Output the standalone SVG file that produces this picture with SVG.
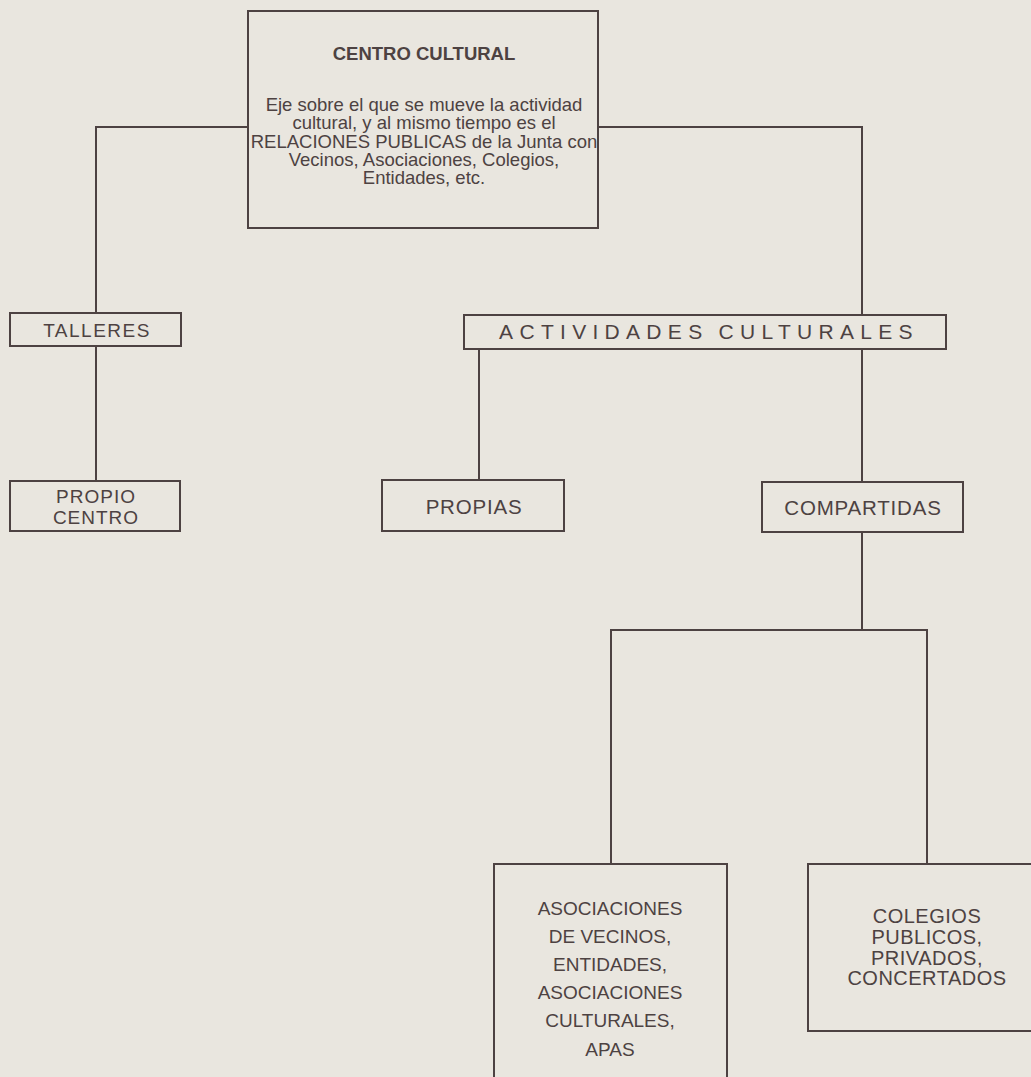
<svg xmlns="http://www.w3.org/2000/svg" width="1031" height="1077" viewBox="0 0 1031 1077">
<style>
.box{fill:none;stroke:#4d4242;stroke-width:2}
.ln{fill:none;stroke:#4d4242;stroke-width:2}
text{font-family:"Liberation Sans",Arial,Helvetica,sans-serif;fill:#4d4242;text-anchor:middle;font-size:18.5px}
.t{font-weight:bold}
.sp{font-size:21px;letter-spacing:6.3px;word-spacing:-2px}
.l1{font-size:19px;letter-spacing:1.5px}
.l2{font-size:19px;letter-spacing:1px}
.l3{font-size:20.5px;letter-spacing:0.8px}
.l4{font-size:19px}
.l5{font-size:20px;letter-spacing:0.5px}
</style>
<rect x="0" y="0" width="1031" height="1077" fill="#e9e6df"/>
<g id="connectors">
<path class="ln" d="M248 127 H96 V313"/>
<path class="ln" d="M96 346 V481"/>
<path class="ln" d="M598 127 H862 V315"/>
<path class="ln" d="M479 349 V480"/>
<path class="ln" d="M862 349 V482"/>
<path class="ln" d="M862 532 V630"/>
<path class="ln" d="M611 864 V630 H927 V864"/>
</g>
<g id="centro-cultural">
<rect class="box" x="248" y="11" width="350" height="217"/>
<text class="t" x="424" y="60">CENTRO CULTURAL</text>
<text x="424" y="111">Eje sobre el que se mueve la actividad</text>
<text x="424" y="129">cultural, y al mismo tiempo es el</text>
<text x="424" y="148">RELACIONES PUBLICAS de la Junta con</text>
<text x="424" y="166">Vecinos, Asociaciones, Colegios,</text>
<text x="424" y="184">Entidades, etc.</text>
</g>
<g id="talleres">
<rect class="box" x="10" y="313" width="171" height="33"/>
<text class="l1" x="97" y="337">TALLERES</text>
</g>
<g id="propio-centro">
<rect class="box" x="10" y="481" width="170" height="50"/>
<text class="l2" x="96" y="503">PROPIO</text>
<text class="l2" x="96" y="524">CENTRO</text>
</g>
<g id="actividades-culturales">
<rect class="box" x="464" y="315" width="482" height="34"/>
<text class="sp" x="709" y="339">ACTIVIDADES CULTURALES</text>
</g>
<g id="propias">
<rect class="box" x="382" y="480" width="182" height="51"/>
<text class="l3" x="474" y="514">PROPIAS</text>
</g>
<g id="compartidas">
<rect class="box" x="762" y="482" width="201" height="50"/>
<text class="l3" x="863" y="515">COMPARTIDAS</text>
</g>
<g id="asociaciones">
<rect class="box" x="494" y="864" width="233" height="230"/>
<text class="l4" x="610" y="915">ASOCIACIONES</text>
<text class="l4" x="610" y="943">DE VECINOS,</text>
<text class="l4" x="610" y="971">ENTIDADES,</text>
<text class="l4" x="610" y="999">ASOCIACIONES</text>
<text class="l4" x="610" y="1027">CULTURALES,</text>
<text class="l4" x="610" y="1056">APAS</text>
</g>
<g id="colegios">
<rect class="box" x="808" y="864" width="240" height="167"/>
<text class="l5" x="927" y="923">COLEGIOS</text>
<text class="l5" x="927" y="944">PUBLICOS,</text>
<text class="l5" x="927" y="965">PRIVADOS,</text>
<text class="l5" x="927" y="985">CONCERTADOS</text>
</g>
</svg>
